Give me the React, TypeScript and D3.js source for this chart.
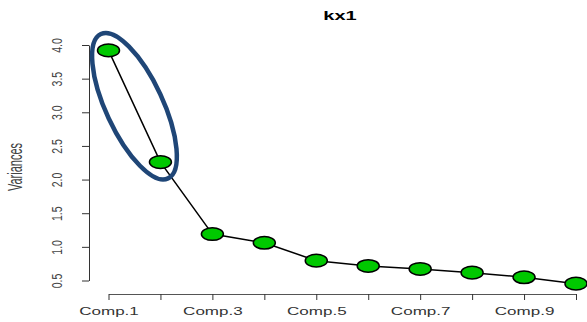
import * as d3 from 'd3';
import { useEffect, useRef } from 'react';

// scree plot values
const components = ['Comp.1', 'Comp.2', 'Comp.3', 'Comp.4', 'Comp.5', 'Comp.6', 'Comp.7', 'Comp.8', 'Comp.9', 'Comp.10'];
const variances = [3.92, 2.26, 1.19, 1.06, 0.795, 0.716, 0.672, 0.617, 0.548, 0.453];
const yTicks = [0.5, 1.0, 1.5, 2.0, 2.5, 3.0, 3.5, 4.0];
const shownLabels = ['Comp.1', 'Comp.3', 'Comp.5', 'Comp.7', 'Comp.9'];

const width = 587;
const height = 322;
const axisX = 89;
const axisY = 294;
// the original picture is stretched sideways, so text gets a horizontal scale
const stretch = 1.55;
const font = '"Liberation Sans", Arial, sans-serif';

function App() {
    const xAxis = useRef<SVGGElement>(null);
    const yAxis = useRef<SVGGElement>(null);

    const x = d3.scalePoint<string>().domain(components).range([108.5, 576]);
    const y = d3.scaleLinear().domain([0.5, 4]).range([280.5, 45]);

    const line = d3.line<number>()
        .x((d, i) => x(components[i]) as number)
        .y(d => y(d));

    // ellipse annotation around the first two components
    const p1 = [x(components[0]) as number, y(variances[0])];
    const p2 = [x(components[1]) as number, y(variances[1])];
    const cx = (p1[0] + p2[0]) / 2;
    const cy = (p1[1] + p2[1]) / 2;
    const half = Math.hypot(p2[0] - p1[0], p2[1] - p1[1]) / 2;
    const tilt = -Math.atan2(p2[0] - p1[0], p2[1] - p1[1]) * 180 / Math.PI;

    useEffect(() => {
        const left = d3.axisLeft(y).tickValues(yTicks).tickFormat(d3.format('.1f')).tickSize(7).tickSizeOuter(0);
        const gy = d3.select(yAxis.current!).call(left);
        gy.select('.domain').attr('stroke', '#333').attr('stroke-width', 1);
        gy.selectAll('line').attr('stroke', '#333');
        gy.selectAll('text')
            .attr('transform', 'scale(1.45,1) rotate(-90)')
            .attr('x', 0)
            .attr('y', -18.5)
            .attr('dy', 0)
            .attr('text-anchor', 'middle')
            .attr('fill', '#444')
            .style('font-family', font)
            .style('font-size', '10.5px');

        const bottom = d3.axisBottom(x).tickSize(6).tickSizeOuter(0)
            .tickFormat(d => (shownLabels.includes(d) ? d : ''));
        const gx = d3.select(xAxis.current!).call(bottom);
        gx.select('.domain').attr('stroke', '#555').attr('stroke-width', 1);
        gx.selectAll('line').attr('stroke', '#333');
        gx.selectAll('text')
            .attr('transform', `scale(${stretch},1)`)
            .attr('y', 21.5)
            .attr('dy', 0)
            .attr('fill', '#333')
            .style('font-family', font)
            .style('font-size', '11px');
    }, []);

    return <div style={{ position: 'absolute', left: 0, top: 0 }}>
        <svg width={width} height={height} style={{ display: 'block', background: '#fff' }}>
            <text transform={`translate(340, 20) scale(1.6,1)`} textAnchor='middle' fontFamily={font} fontWeight='bold' fontSize={12.5}>kx1</text>
            <text transform={`translate(22, 167) scale(1.8,1) rotate(-90)`} textAnchor='middle' fontFamily={font} fontSize={11} fill='#444'>Variances</text>
            <g transform={`translate(${axisX}, 0)`} ref={yAxis} />
            <g transform={`translate(0, ${axisY})`} ref={xAxis} />
            <path d={line(variances) ?? ''} fill='none' stroke='#000' strokeWidth={1.5} />
            {variances.map((v, i) =>
                <ellipse key={components[i]} cx={x(components[i])} cy={y(v)} rx={11} ry={6.3}
                    fill='#00c800' stroke='#000' strokeWidth={1.5} />
            )}
            <ellipse cx={cx} cy={cy} rx={28.5} ry={half + 18}
                transform={`rotate(${tilt} ${cx} ${cy})`}
                fill='none' stroke='#1f4677' strokeWidth={4.5} />
        </svg>
    </div>;
}

export default App;
